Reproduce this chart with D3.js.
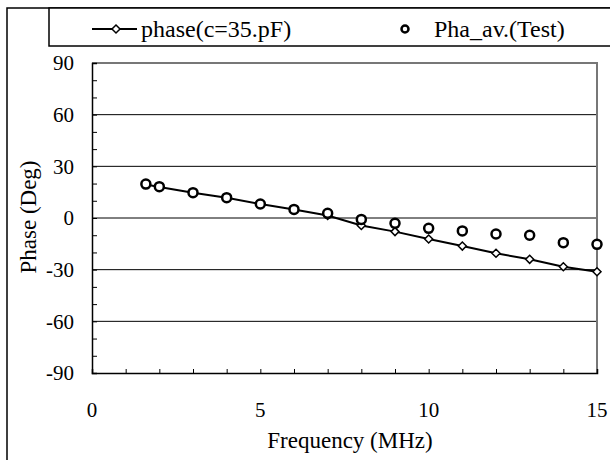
<!DOCTYPE html>
<html>
<head>
<meta charset="utf-8">
<script src="https://cdn.jsdelivr.net/npm/d3@7"></script>
<style>
  body { margin: 0; background: #fff; }
  svg text { font-family: "Liberation Serif", "Times New Roman", serif; fill: #000; }
</style>
</head>
<body>
<div id="chart"></div>
<script>
// frequency (MHz) and phase (deg)
var freq = [1.6, 2, 3, 4, 5, 6, 7, 8, 9, 10, 11, 12, 13, 14, 15];
var phase_model = [19.5, 18, 14.7, 11.8, 8.1, 5, 1.5, -4.3, -7.9, -12.2, -16.3, -20.5, -24, -28.3, -31.2];
var phase_test = [19.7, 18.2, 14.7, 11.8, 8.1, 5, 2.7, -0.8, -3.1, -6, -7.5, -9.3, -10, -14.3, -15.3];

var x_labels = [0, 5, 10, 15];
var y_labels = [-90, -60, -30, 0, 30, 60, 90];
var legend_names = ["phase(c=35.pF)", "Pha_av.(Test)"];

var width = 610,
	height = 460;
// plot area (note: "top" is taken by window.top, so use plot_* names)
var plot_left = 92, plot_right = 597, plot_top = 63, plot_bottom = 373;

var svg = d3.select("#chart").append("svg")
	.attr("width", width)
	.attr("height", height);

var x = d3.scaleLinear().domain([0, 15]).range([plot_left, plot_right]);
var y = d3.scaleLinear().domain([-90, 90]).range([plot_bottom, plot_top]);

// outer border (only left and top show)
svg.append("path")
	.attr("d", "M7,460 L7,8 L610,8")
	.style("fill", "none")
	.style("stroke", "#000")
	.style("stroke-width", 1.5);

// legend box
svg.append("rect")
	.attr("x", 49).attr("y", 8)
	.attr("width", 570).attr("height", 38)
	.style("fill", "#fff")
	.style("stroke", "#000")
	.style("stroke-width", 1.5);

var diamond = "M0,-4L4,0L0,4L-4,0Z";

svg.append("line")
	.attr("x1", 92).attr("x2", 137).attr("y1", 29).attr("y2", 29)
	.style("stroke", "#000").style("stroke-width", 2);
svg.append("path")
	.attr("d", diamond)
	.attr("transform", "translate(116,29)")
	.style("fill", "#fff").style("stroke", "#000").style("stroke-width", 1.5);
svg.append("text")
	.attr("x", 141).attr("y", 37)
	.style("font-size", "24px")
	.text(legend_names[0]);
svg.append("circle")
	.attr("cx", 405).attr("cy", 29).attr("r", 3.5)
	.style("fill", "#fff").style("stroke", "#000").style("stroke-width", 2.5);
svg.append("text")
	.attr("x", 434).attr("y", 37)
	.style("font-size", "24px")
	.text(legend_names[1]);

// horizontal grid
svg.selectAll("line.grid")
	.data(y_labels.filter(function(d) { return d > -90 && d < 90; }))
	.enter()
		.append("line")
		.attr("class", "grid")
		.attr("x1", plot_left).attr("x2", plot_right)
		.attr("y1", function(d) { return y(d); })
		.attr("y2", function(d) { return y(d); })
		.style("stroke", "#000")
		.style("stroke-width", 1);

// frame: top and right are greyish in the scan
svg.append("path")
	.attr("d", "M" + plot_left + "," + plot_top + "L" + plot_right + "," + plot_top + "L" + plot_right + "," + plot_bottom)
	.style("fill", "none")
	.style("stroke", "#777")
	.style("stroke-width", 2);

// minor ticks, pointing inward
var yTicks = d3.axisLeft(y)
	.tickValues(d3.range(-90, 91, 10))
	.tickSize(-5)
	.tickFormat("");
var gy = svg.append("g").attr("transform", "translate(" + plot_left + ",0)").call(yTicks);
gy.selectAll(".domain").style("stroke-width", 1.5);

var xTicks = d3.axisBottom(x)
	.tickValues(d3.range(0, 16, 1))
	.tickSize(-4)
	.tickFormat("");
var gx = svg.append("g").attr("transform", "translate(0," + plot_bottom + ")").call(xTicks);
gx.selectAll(".domain").style("stroke-width", 1.5);

// tick labels
svg.selectAll("text.ylab")
	.data(y_labels)
	.enter()
		.append("text")
		.attr("class", "ylab")
		.attr("x", 74)
		.attr("y", function(d) { return y(d); })
		.attr("dy", "0.35em")
		.attr("text-anchor", "end")
		.style("font-size", "21px")
		.text(function(d) { return d; });

svg.selectAll("text.xlab")
	.data(x_labels)
	.enter()
		.append("text")
		.attr("class", "xlab")
		.attr("x", function(d) { return x(d); })
		.attr("y", 417)
		.attr("text-anchor", "middle")
		.style("font-size", "21px")
		.text(function(d) { return d; });

// axis titles
svg.append("text")
	.attr("x", 350).attr("y", 448)
	.attr("text-anchor", "middle")
	.style("font-size", "23px")
	.text("Frequency (MHz)");
svg.append("text")
	.attr("transform", "translate(36,217) rotate(-90)")
	.attr("text-anchor", "middle")
	.style("font-size", "23px")
	.text("Phase (Deg)");

// model line with diamonds
var line = d3.line()
	.x(function(d, i) { return x(freq[i]); })
	.y(function(d) { return y(d); });
svg.append("path")
	.datum(phase_model)
	.attr("d", line)
	.style("fill", "none")
	.style("stroke", "#000")
	.style("stroke-width", 2);
svg.selectAll("path.model")
	.data(phase_model)
	.enter()
		.append("path")
		.attr("class", "model")
		.attr("d", diamond)
		.attr("transform", function(d, i) { return "translate(" + x(freq[i]) + "," + y(d) + ")"; })
		.style("fill", "#fff")
		.style("stroke", "#000")
		.style("stroke-width", 1.5);

// test points
svg.selectAll("circle.test")
	.data(phase_test)
	.enter()
		.append("circle")
		.attr("class", "test")
		.attr("cx", function(d, i) { return x(freq[i]); })
		.attr("cy", function(d) { return y(d); })
		.attr("r", 4.5)
		.style("fill", "#fff")
		.style("stroke", "#000")
		.style("stroke-width", 2.5);
</script>
</body>
</html>
